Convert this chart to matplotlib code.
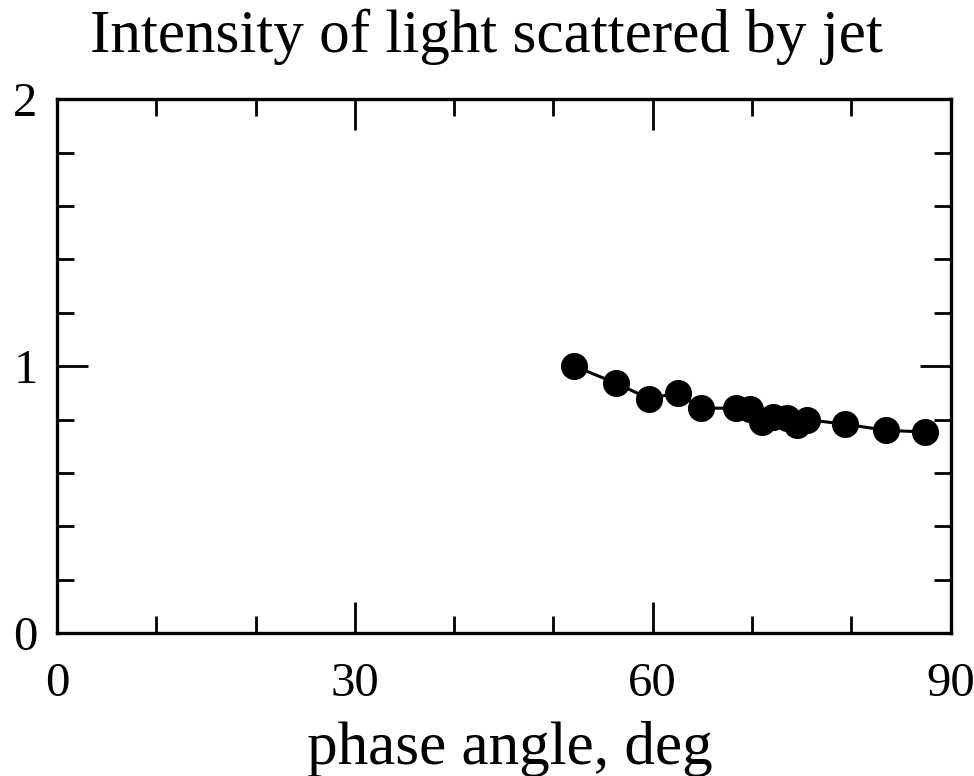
import matplotlib
matplotlib.use("Agg")
import matplotlib.pyplot as plt
from matplotlib.ticker import MultipleLocator

phase_angle = [52.1, 56.3, 59.6, 62.5, 64.9, 68.4, 69.8, 71.0, 72.1, 73.5, 74.5, 75.5, 79.4, 83.5, 87.4]
intensity = [1.00, 0.937, 0.879, 0.900, 0.844, 0.842, 0.839, 0.791, 0.810, 0.808, 0.779, 0.800, 0.783, 0.760, 0.754]

x_ticks = [0, 30, 60, 90]
y_ticks = [0, 1, 2]

plt.rcParams['font.family'] = ['Liberation Serif', 'DejaVu Serif']

fig = plt.figure(figsize=(9.74, 7.76), dpi=100)
ax = fig.add_axes([0.0585, 0.184, 0.9175, 0.688])

ax.plot(phase_angle, intensity, '-', color='black', lw=2.2)
ax.plot(phase_angle, intensity, 'o', color='black', markersize=19.5, markeredgewidth=0)

ax.set_xlim(0, 90)
ax.set_ylim(0, 2)
ax.set_xticks(x_ticks)
ax.set_yticks(y_ticks)
ax.xaxis.set_minor_locator(MultipleLocator(10))
ax.yaxis.set_minor_locator(MultipleLocator(0.2))
ax.tick_params(which='both', direction='in', top=True, right=True, width=2)
ax.tick_params(which='major', length=22, labelsize=35)
ax.tick_params(axis='x', which='major', pad=21)
ax.tick_params(axis='y', which='major', pad=14)
ax.tick_params(which='minor', length=12)
for s in ax.spines.values():
    s.set_linewidth(2.4)

ax.set_xlabel('phase angle, deg', fontsize=44, va='baseline')
ax.xaxis.set_label_coords(0.507, -0.2453)
ax.set_title('Intensity of light scattered by jet', fontsize=44, x=0.481, y=1.088, va='baseline', pad=0)

fig.savefig('out.png', dpi=100)
